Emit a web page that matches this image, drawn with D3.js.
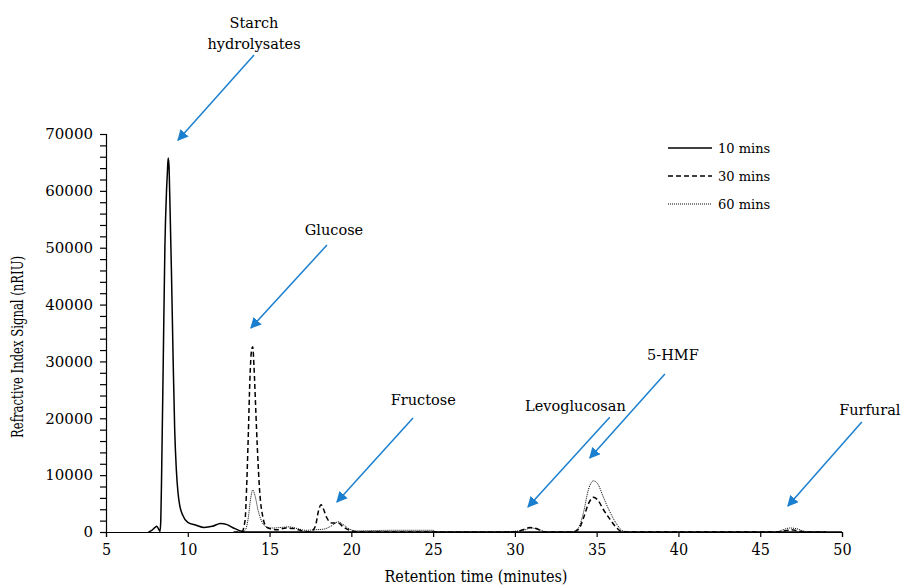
<!DOCTYPE html>
<html>
<head>
<meta charset="utf-8">
<script src="https://cdn.jsdelivr.net/npm/d3@7"></script>
<style>
    body { margin: 0; background: #fff; }
    text { font-family: "DejaVu Serif", serif; fill: #000; }
</style>
</head>
<body>
<svg id="chart" width="901" height="586"></svg>
<script>
// retention time (min) and signal (nRIU) per sample
const time10 = [7.6, 7.8, 8.0, 8.1, 8.2, 8.3, 8.35, 8.4, 8.5, 8.6, 8.7, 8.75, 8.8, 8.85, 8.9, 9.0, 9.1, 9.2, 9.3, 9.4, 9.5, 9.7, 10.0, 10.5, 11.0, 11.5, 12.0, 12.4, 12.8, 13.2, 13.5, 50];
const signal10 = [0, 300, 800, 1000, 600, 100, 2000, 10000, 30000, 50000, 60000, 63000, 65800, 64500, 59000, 46000, 31000, 18000, 11000, 7000, 4800, 2900, 1700, 1200, 800, 1000, 1500, 1300, 700, 200, 0, 0];

const time30 = [12.8, 13.3, 13.5, 13.6, 13.7, 13.8, 13.9, 13.97, 14.05, 14.15, 14.25, 14.4, 14.6, 14.8, 15.0, 15.5, 16.0, 16.5, 17.0, 17.5, 17.8, 18.0, 18.15, 18.3, 18.5, 18.8, 19.2, 19.5, 20.0, 20.5, 30.0, 30.5, 30.9, 31.3, 31.8, 33.5, 33.9, 34.2, 34.5, 34.8, 35.1, 35.4, 35.8, 36.2, 36.6, 37.0, 46.0, 46.5, 46.9, 47.3, 47.8, 49.0];
const signal30 = [0, 0, 2000, 8000, 17000, 27000, 32000, 32600, 29000, 22000, 15000, 7000, 2500, 900, 600, 400, 700, 600, 200, 0, 1000, 3800, 4800, 4000, 2500, 1600, 1600, 900, 200, 0, 0, 400, 800, 600, 0, 0, 500, 2500, 5000, 6100, 5500, 4000, 2300, 800, 0, 0, 0, 200, 400, 200, 0, 0];

const time60 = [13.0, 13.5, 13.7, 13.85, 13.97, 14.1, 14.3, 14.5, 14.8, 15.2, 15.7, 16.2, 16.7, 17.2, 17.8, 18.3, 18.8, 19.2, 19.5, 19.9, 20.3, 22.5, 25.0, 25.2, 29.0, 30.5, 31.0, 31.4, 32.0, 33.5, 33.9, 34.2, 34.5, 34.8, 35.1, 35.4, 35.8, 36.2, 36.6, 37.0, 46.0, 46.4, 46.8, 47.2, 47.6, 48.0, 49.0];
const signal60 = [0, 300, 2500, 6000, 7400, 6500, 3800, 2000, 900, 700, 800, 900, 600, 300, 400, 500, 1100, 1800, 1300, 500, 200, 300, 300, 0, 0, 300, 700, 500, 0, 0, 800, 3500, 7500, 9000, 8300, 6200, 3600, 1500, 200, 0, 0, 400, 700, 600, 200, 0, 0];

const seriesNames = ["10 mins", "30 mins", "60 mins"];
const xTicks = [5, 10, 15, 20, 25, 30, 35, 40, 45, 50];
const yTicks = [0, 10000, 20000, 30000, 40000, 50000, 60000, 70000];

// peak labels: text lines, label position and arrow (tail time/signal, head time/signal)
const peakNames = [["Starch", "hydrolysates"], ["Glucose"], ["Fructose"], ["Levoglucosan"], ["5-HMF"], ["Furfural"]];
const labelAt = [[14.05, 88600], [18.94, 52300], [24.4, 22300], [33.7, 21300], [39.66, 30250], [51.7, 20600]];
const arrowFrom = [[14.05, 83900], [18.51, 50470], [23.77, 20050], [35.8, 20200], [39.17, 27790], [51.21, 19350]];
const arrowTo = [[9.4, 68900], [13.86, 35880], [19.12, 5280], [30.8, 4400], [34.58, 13010], [46.69, 4570]];

const svg = d3.select("#chart");
const margin = {left: 106, right: 59, top: 134, bottom: 54};
const width = 901, height = 586;

let x = d3.scaleLinear().domain([5, 50]).range([margin.left, width - margin.right]);
let y = d3.scaleLinear().domain([0, 70000]).range([height - margin.bottom, margin.top]);

// axes
let xAxis = d3.axisBottom(x).tickValues(xTicks).tickSize(5).tickFormat(d3.format("d"));
let gx = svg.append("g")
    .attr("transform", `translate(0,${y(0)})`)
    .call(xAxis);
gx.selectAll("text")
    .style("font-family", "'DejaVu Serif Condensed', 'Liberation Serif', serif")
    .style("font-size", "16px")
    .attr("dy", "0.95em");

let yMinor = d3.range(0, 70001, 2000);
let yAxis = d3.axisLeft(y).tickValues(yMinor).tickSize(6)
    .tickFormat(d => yTicks.includes(d) ? d : "");
let gy = svg.append("g")
    .attr("transform", `translate(${x(5)},0)`)
    .call(yAxis);
gy.selectAll("text")
    .style("font-size", "15px")
    .attr("x", -13);

svg.selectAll(".domain, .tick line").attr("stroke", "#000").attr("stroke-width", 1.2);

svg.append("text")
    .attr("x", (x(5) + x(50)) / 2 + 2)
    .attr("y", 582)
    .attr("text-anchor", "middle")
    .attr("textLength", 183)
    .attr("lengthAdjust", "spacingAndGlyphs")
    .style("font-family", "'DejaVu Serif Condensed', 'Liberation Serif', serif")
    .style("font-size", "16px")
    .text("Retention time (minutes)");

svg.append("text")
    .attr("transform", `translate(23,${(y(0) + y(70000)) / 2 + 14}) rotate(-90)`)
    .attr("text-anchor", "middle")
    .attr("textLength", 182)
    .attr("lengthAdjust", "spacingAndGlyphs")
    .style("font-family", "'DejaVu Serif Condensed', 'Liberation Serif', serif")
    .style("font-size", "16px")
    .text("Refractive Index Signal (nRIU)");

// traces
let line = d3.line()
    .x(d => x(d[0]))
    .y(d => y(d[1]))
    .curve(d3.curveMonotoneX);

let traces = [
    {data: d3.zip(time10, signal10), dash: null, w: 1.5},
    {data: d3.zip(time30, signal30), dash: "5,3", w: 1.5},
    {data: d3.zip(time60, signal60), dash: "1,1", w: 1}
];

svg.selectAll(".trace")
    .data(traces)
    .enter()
    .append("path")
    .attr("class", "trace")
    .attr("d", d => line(d.data))
    .attr("fill", "none")
    .attr("stroke", "#000")
    .attr("stroke-width", d => d.w)
    .attr("stroke-dasharray", d => d.dash);

// legend
let legend = svg.append("g").attr("transform", "translate(668,148)");
seriesNames.forEach((name, i) => {
    legend.append("line")
        .attr("x1", 0).attr("x2", 44)
        .attr("y1", i * 28).attr("y2", i * 28)
        .attr("stroke", "#000")
        .attr("stroke-width", traces[i].w)
        .attr("stroke-dasharray", traces[i].dash);
    legend.append("text")
        .attr("x", 50)
        .attr("y", i * 28)
        .attr("dy", "0.35em")
        .style("font-size", "13px")
        .text(name);
});

// peak annotations
const blue = "#1b7fcf";
svg.append("defs").append("marker")
    .attr("id", "arrowhead")
    .attr("viewBox", "0 0 10 10")
    .attr("refX", 9).attr("refY", 5)
    .attr("markerWidth", 11).attr("markerHeight", 11)
    .attr("markerUnits", "userSpaceOnUse")
    .attr("orient", "auto")
    .append("path")
    .attr("d", "M0,0 L10,5 L0,10 Z")
    .attr("fill", blue);

peakNames.forEach((lines, i) => {
    svg.append("line")
        .attr("x1", x(arrowFrom[i][0])).attr("y1", y(arrowFrom[i][1]))
        .attr("x2", x(arrowTo[i][0])).attr("y2", y(arrowTo[i][1]))
        .attr("stroke", blue)
        .attr("stroke-width", 1.5)
        .attr("marker-end", "url(#arrowhead)");
    let t = svg.append("text")
        .attr("x", x(labelAt[i][0]))
        .attr("y", y(labelAt[i][1]))
        .attr("text-anchor", "middle")
        .style("font-size", "14.5px");
    lines.forEach((s, j) => {
        t.append("tspan")
            .attr("x", x(labelAt[i][0]))
            .attr("dy", j === 0 ? 0 : "1.45em")
            .text(s);
    });
});
</script>
</body>
</html>
